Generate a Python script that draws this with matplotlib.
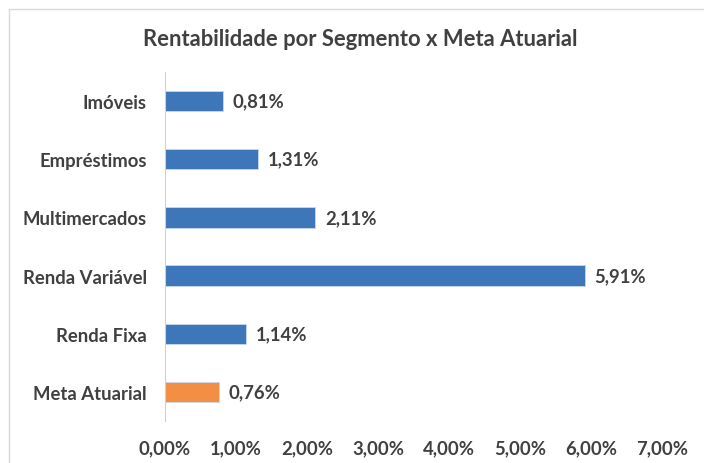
import matplotlib.pyplot as plt
from matplotlib.patches import Rectangle

# data
categorias = ['Imóveis', 'Empréstimos', 'Multimercados', 'Renda Variável', 'Renda Fixa', 'Meta Atuarial']
valores = [0.81, 1.31, 2.11, 5.91, 1.14, 0.76]
cores = ['#3d77b9'] * 5 + ['#f38f44']
ticks = [0, 1, 2, 3, 4, 5, 6, 7]

plt.rcParams['font.family'] = ['Lato', 'DejaVu Sans']
texto = '#404040'
fs = 13.3

fig = plt.figure(figsize=(7.04, 4.64), dpi=100)
ax = fig.add_axes([165 / 704, 1 - 422 / 464, 497 / 704, 349 / 464])

pos = list(range(len(categorias)))
ax.barh(pos, valores, height=0.35, color=cores, edgecolor='#c8d8ea', linewidth=0.6)
ax.set_ylim(len(categorias) - 0.5, -0.5)
ax.set_xlim(0, 7)

for y, v in zip(pos, valores):
    ax.text(v + 0.14, y, f'{v:.2f}%'.replace('.', ','), va='center', ha='left',
            fontsize=fs, fontweight='bold', color=texto)

ax.set_yticks(pos)
ax.set_yticklabels(categorias, fontsize=fs, fontweight='bold', color=texto)
ax.set_xticks(ticks)
ax.set_xticklabels([f'{t:.2f}%'.replace('.', ',') for t in ticks],
                   fontsize=fs, fontweight='bold', color=texto)
ax.tick_params(axis='both', length=0)
ax.tick_params(axis='y', pad=13)
ax.tick_params(axis='x', pad=13)

for s in ['top', 'right', 'bottom']:
    ax.spines[s].set_visible(False)
ax.spines['left'].set_color('#d0d0d0')

fig.text(360 / 704, 1 - 40 / 464, 'Rentabilidade por Segmento x Meta Atuarial',
         ha='center', va='center', fontsize=15.8, fontweight='bold', color=texto)

# light frame around the chart area
fig.patches.append(Rectangle((9 / 704, -0.05), 1.2, 1 - 10 / 464 + 0.05,
                             transform=fig.transFigure, fill=False,
                             edgecolor='#d9d9d9', linewidth=1))

fig.savefig('out.png', dpi=100)
